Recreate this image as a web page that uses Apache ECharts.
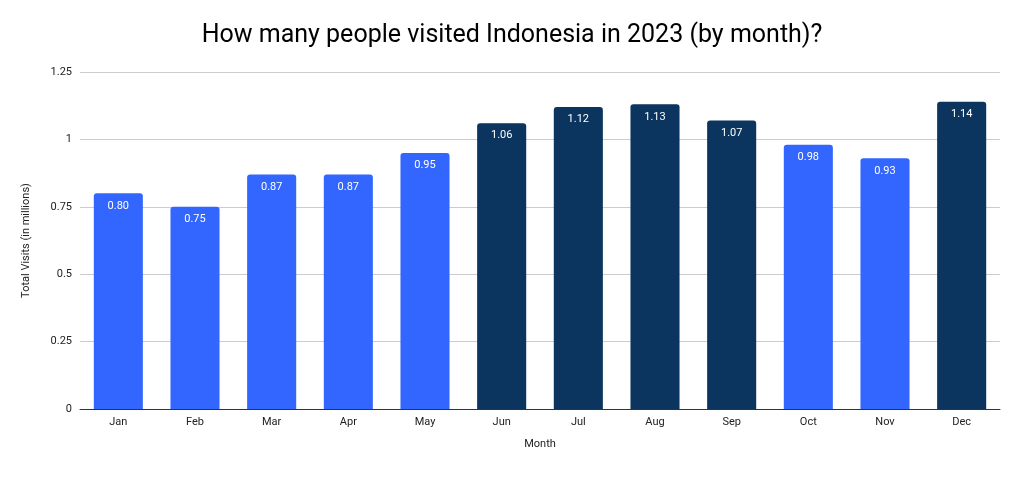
<!DOCTYPE html>
<html>
<head>
<meta charset="utf-8">
<script src="https://cdn.jsdelivr.net/npm/echarts@6/dist/echarts.min.js"></script>
<style>html,body{margin:0;padding:0;background:#fff}#chart{width:1024px;height:477px}</style>
</head>
<body>
<div id="chart"></div>
<script>
var months = ['Jan','Feb','Mar','Apr','May','Jun','Jul','Aug','Sep','Oct','Nov','Dec'];
var visits = [0.80, 0.75, 0.87, 0.87, 0.95, 1.06, 1.12, 1.13, 1.07, 0.98, 0.93, 1.14];
var yTicks = [0, 0.25, 0.5, 0.75, 1, 1.25];

var chart = echarts.init(document.getElementById('chart'));
chart.setOption({
    animation: false,
    title: {
        text: 'How many people visited Indonesia in 2023 (by month)?',
        left: 'center', top: 18,
        textStyle: {fontFamily: 'Roboto', fontSize: 25, fontWeight: 'normal', color: '#000'}
    },
    grid: {left: 80, right: 24, top: 72, bottom: 68},
    xAxis: {
        type: 'category',
        data: months,
        name: 'Month', nameLocation: 'middle', nameGap: 30,
        nameTextStyle: {fontFamily: 'Roboto', fontSize: 11, color: '#222'},
        axisLine: {lineStyle: {color: '#333'}},
        axisTick: {show: false},
        axisLabel: {fontFamily: 'Roboto', fontSize: 11, color: '#222', margin: 8}
    },
    yAxis: {
        type: 'value', min: 0, max: 1.25, interval: 0.25,
        name: 'Total Visits (in millions)', nameLocation: 'middle', nameGap: 48,
        nameTextStyle: {fontFamily: 'Roboto', fontSize: 11, color: '#222'},
        axisLabel: {fontFamily: 'Roboto', fontSize: 11, color: '#222',
            formatter: function (v) { return yTicks.indexOf(v) >= 0 ? String(v) : ''; }},
        splitLine: {lineStyle: {color: '#ccc'}}
    },
    series: [{
        type: 'bar',
        barWidth: '64%',
        data: visits.map(function (v) {
            return {value: v, itemStyle: {color: v > 1 ? '#0b355e' : '#3366ff', borderRadius: [3, 3, 0, 0]}};
        }),
        label: {
            show: true, position: 'insideTop', distance: 7,
            color: '#fff', fontFamily: 'Roboto', fontSize: 11,
            formatter: function (p) { return p.value.toFixed(2); }
        }
    }]
});
</script>
</body>
</html>
